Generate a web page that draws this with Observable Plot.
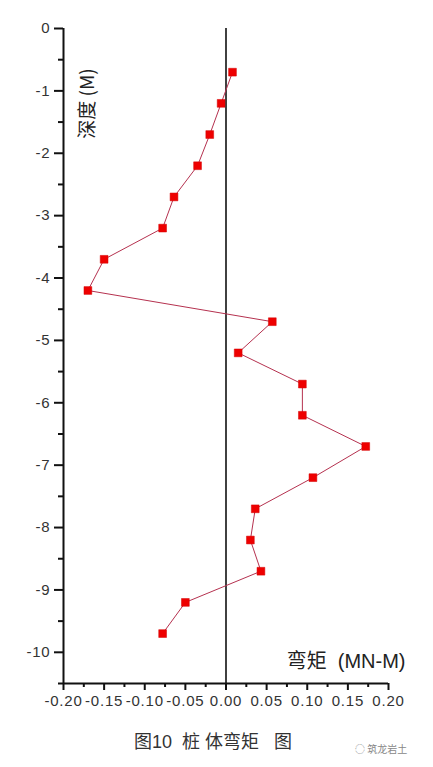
<!DOCTYPE html>
<html>
<head>
<meta charset="utf-8">
<script src="https://cdn.jsdelivr.net/npm/d3@7"></script>
<script src="https://cdn.jsdelivr.net/npm/@observablehq/plot@0.6"></script>
<style>
  html, body { margin: 0; padding: 0; background: #fff; }
  #wrap { position: relative; width: 433px; height: 767px; overflow: hidden; }
  #caption { position: absolute; left: 0; width: 426px; top: 727px; text-align: center;
    font-family: "Liberation Sans", Arial, "Noto Sans CJK SC", sans-serif; font-size: 18px; color: #333; white-space: pre; }
  #mark { position: absolute; left: 355px; top: 741px; font-family: "Noto Sans CJK SC", sans-serif;
    font-size: 10px; color: #888; white-space: nowrap; }
  #chart svg g[aria-label="x-axis tick label"] text,
  #chart svg g[aria-label="y-axis tick label"] text { letter-spacing: 0.8px; }
</style>
</head>
<body>
<div id="wrap">
  <div id="chart"></div>
  <div id="caption">图10  桩 体弯矩   图</div>
  <div id="mark">◌ 筑龙岩土</div>
</div>
<script>
const depth  = [-0.7, -1.2, -1.7, -2.2, -2.7, -3.2, -3.7, -4.2, -4.7, -5.2, -5.7, -6.2, -6.7, -7.2, -7.7, -8.2, -8.7, -9.2, -9.7];
const moment = [0.008, -0.006, -0.020, -0.035, -0.064, -0.078, -0.150, -0.170, 0.057, 0.015, 0.094, 0.094, 0.172, 0.107, 0.036, 0.030, 0.043, -0.050, -0.078];

const yMajor = [0, -1, -2, -3, -4, -5, -6, -7, -8, -9, -10];
const yMinor = [-0.5, -1.5, -2.5, -3.5, -4.5, -5.5, -6.5, -7.5, -8.5, -9.5, -10.5];
const xMajor = [-0.20, -0.15, -0.10, -0.05, 0.00, 0.05, 0.10, 0.15, 0.20];
const xMinor = [-0.175, -0.125, -0.075, -0.025, 0.025, 0.075, 0.125, 0.175];

const xLabel = "弯矩  (MN-M)";
const yLabel = "深度 (M)";

const data = depth.map((d, i) => ({depth: d, moment: moment[i]}));

const chart = Plot.plot({
  width: 433,
  height: 720,
  marginLeft: 63,
  marginRight: 45,
  marginTop: 28,
  marginBottom: 37,
  style: {fontFamily: "'Liberation Sans', Arial, sans-serif", fontSize: "15px", color: "#333", background: "#fff"},
  x: {domain: [-0.2, 0.2]},
  y: {domain: [-10.5, 0]},
  marks: [
    Plot.axisY(yMajor, {anchor: "left", tickSize: 9, tickPadding: 4, strokeWidth: 2, stroke: "#111",
      tickFormat: d => String(d), label: null, fontSize: 15}),
    Plot.axisY(yMinor, {anchor: "left", tickSize: 5, strokeWidth: 2, stroke: "#111",
      tickFormat: () => "", label: null}),
    Plot.axisX(xMajor, {anchor: "bottom", tickSize: 7, tickPadding: 5, strokeWidth: 2, stroke: "#111",
      tickFormat: d => d.toFixed(2), label: null, fontSize: 15}),
    Plot.axisX(xMinor, {anchor: "bottom", tickSize: 4, strokeWidth: 2, stroke: "#111",
      tickFormat: () => "", label: null}),
    Plot.ruleX([-0.2], {stroke: "#111", strokeWidth: 2}),
    Plot.ruleY([-10.5], {stroke: "#111", strokeWidth: 2}),
    Plot.ruleX([0], {stroke: "#111", strokeWidth: 1.6}),
    Plot.line(data, {x: "moment", y: "depth", stroke: "#b5314f", strokeWidth: 1}),
    Plot.dot(data, {x: "moment", y: "depth", symbol: "square", r: 4.4, fill: "#ee0000", stroke: "#d40000", strokeWidth: 0.5}),
    Plot.text([yLabel], {frameAnchor: "top-left", dx: 17, dy: 75, rotate: -90, fontSize: 19,
      fill: "#222", textAnchor: "middle", fontFamily: "'Noto Sans CJK SC', sans-serif"}),
    Plot.text([xLabel], {frameAnchor: "bottom-right", dx: 17, dy: -16, fontSize: 20,
      fill: "#222", textAnchor: "end", fontFamily: "'Liberation Sans', 'Noto Sans CJK SC', sans-serif"})
  ]
});
document.getElementById("chart").appendChild(chart);
</script>
</body>
</html>
